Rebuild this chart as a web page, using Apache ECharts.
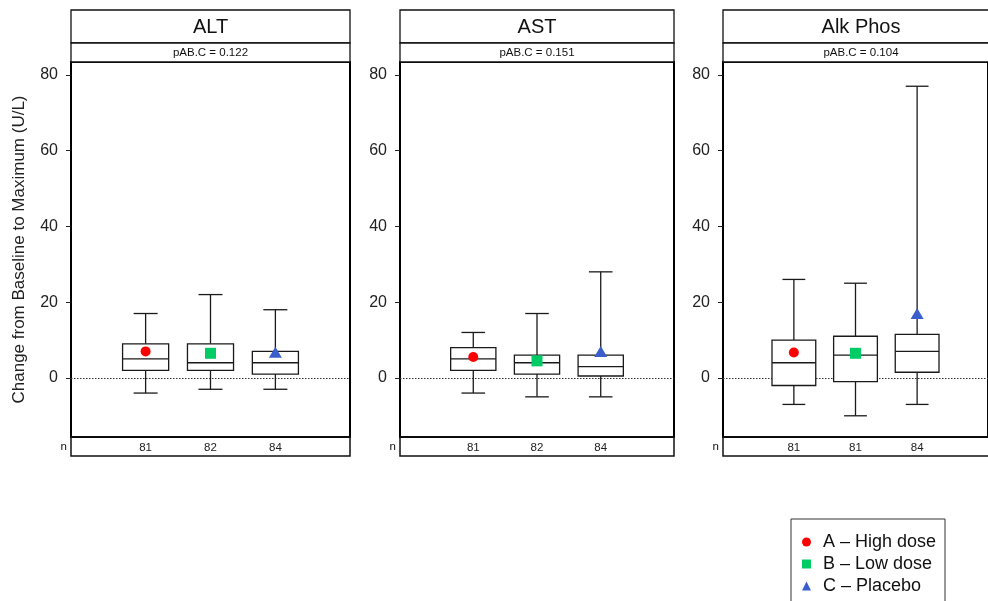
<!DOCTYPE html>
<html>
<head>
<meta charset="utf-8">
<script src="https://cdn.jsdelivr.net/npm/echarts@6/dist/echarts.min.js"></script>
<style>
  html, body { margin: 0; padding: 0; background: #fff; }
  #chart { width: 988px; height: 601px; }
</style>
</head>
<body>
<div id="chart"></div>
<script>
// Lab parameters, one panel each
const panels = ['ALT', 'AST', 'Alk Phos'];
const pValues = ['0.122', '0.151', '0.104'];
const groups = ['A – High dose', 'B – Low dose', 'C – Placebo'];
const groupPositions = [1, 2, 3];
const nCounts = [[81, 82, 84], [81, 82, 84], [81, 81, 84]];

// Five-number summaries per group: [lower whisker, Q1, median, Q3, upper whisker]
const altStats = [[-4, 2, 5, 9, 17], [-3, 2, 4, 9, 22], [-3, 1, 4, 7, 18]];
const astStats = [[-4, 2, 5, 8, 12], [-5, 1, 4, 6, 17], [-5, 0.5, 3, 6, 28]];
const alkStats = [[-7, -2, 4, 10, 26], [-10, -1, 6, 11, 25], [-7, 1.5, 7, 11.5, 77]];

// Group means
const altMeans = [7, 6.5, 6.8];
const astMeans = [5.5, 4.5, 7];
const alkMeans = [6.7, 6.5, 17];

const yTicks = [0, 20, 40, 60, 80];
const yRange = [-15.6, 83.4];
const xRange = [-0.15, 4.15];

const panelStats = [altStats, astStats, alkStats];
const panelMeans = [altMeans, astMeans, alkMeans];

// Layout
const FONT = 'Liberation Sans, Arial, Helvetica, sans-serif';
const panelLeft = [71, 400, 723];
const panelWidth = [279, 274, 276];
const headerTop = 10, stripTop = 43, plotTop = 62, plotBottom = 437, nBottom = 456;
const BOX_W = 0.71, CAP_W = 0.37;
const markerColors = ['#ff0000', '#00cc66', '#3a5fcd'];
const markerSymbols = ['circle', 'rect', 'triangle'];
const markerSizes = [10, 11, [13, 11]];

function renderBox(params, api) {
  const x = api.value(0);
  const low = api.value(1), q1 = api.value(2), med = api.value(3), q3 = api.value(4), high = api.value(5);
  const bw = api.size([BOX_W, 0])[0];
  const cw = api.size([CAP_W, 0])[0];
  const pLow = api.coord([x, low]), pQ1 = api.coord([x, q1]), pMed = api.coord([x, med]);
  const pQ3 = api.coord([x, q3]), pHigh = api.coord([x, high]);
  const cx = pMed[0];
  const stroke = { stroke: '#1a1a1a', lineWidth: 1.3, fill: null };
  return {
    type: 'group',
    children: [
      { type: 'line', shape: { x1: cx, y1: pHigh[1], x2: cx, y2: pQ3[1] }, style: stroke },
      { type: 'line', shape: { x1: cx - cw / 2, y1: pHigh[1], x2: cx + cw / 2, y2: pHigh[1] }, style: stroke },
      { type: 'line', shape: { x1: cx, y1: pQ1[1], x2: cx, y2: pLow[1] }, style: stroke },
      { type: 'line', shape: { x1: cx - cw / 2, y1: pLow[1], x2: cx + cw / 2, y2: pLow[1] }, style: stroke },
      { type: 'rect', shape: { x: cx - bw / 2, y: pQ3[1], width: bw, height: pQ1[1] - pQ3[1] },
        style: { stroke: '#1a1a1a', lineWidth: 1.3, fill: '#fff' } },
      { type: 'line', shape: { x1: cx - bw / 2, y1: pMed[1], x2: cx + bw / 2, y2: pMed[1] }, style: stroke }
    ]
  };
}

const grids = [], xAxes = [], yAxes = [], series = [], graphics = [];

panels.forEach((name, p) => {
  const left = panelLeft[p], width = panelWidth[p];
  grids.push({
    left: left, top: plotTop, width: width, height: plotBottom - plotTop,
    show: true, borderColor: '#000', borderWidth: 2, backgroundColor: 'transparent'
  });
  xAxes.push({
    type: 'value', gridIndex: p, min: xRange[0], max: xRange[1],
    splitLine: { show: false }, axisLine: { show: false }, axisTick: { show: false },
    axisLabel: {
      customValues: groupPositions, margin: 5, fontSize: 11.5, color: '#222', fontFamily: FONT,
      formatter: (v) => String(nCounts[p][groupPositions.indexOf(v)])
    }
  });
  yAxes.push({
    type: 'value', gridIndex: p, min: yRange[0], max: yRange[1], position: 'left',
    splitLine: { show: false },
    axisLine: { show: true, onZero: false, lineStyle: { color: '#000', width: 2 } },
    axisTick: { show: true, inside: false, customValues: yTicks, length: 5, lineStyle: { color: '#222', width: 1 } },
    axisLabel: { customValues: yTicks, margin: 13, fontSize: 16, color: '#222', fontFamily: FONT },
    name: p === 0 ? 'Change from Baseline to Maximum (U/L)' : '',
    nameLocation: 'middle', nameGap: 43,
    nameTextStyle: { fontSize: 17, color: '#222', fontFamily: FONT }
  });

  // reference line at zero
  series.push({
    type: 'line', xAxisIndex: p, yAxisIndex: p, data: [], z: 1, silent: true,
    markLine: {
      silent: true, symbol: 'none', z: 1, label: { show: false },
      lineStyle: { type: [1.5, 1.5], color: '#333', width: 1 },
      data: [{ yAxis: 0 }]
    }
  });

  // box-and-whisker marks
  series.push({
    type: 'custom', xAxisIndex: p, yAxisIndex: p, z: 3, silent: true,
    renderItem: renderBox,
    encode: { x: 0, y: [1, 2, 3, 4, 5] },
    data: panelStats[p].map((s, g) => [groupPositions[g], ...s])
  });

  // group means
  groups.forEach((gName, g) => {
    series.push({
      type: 'scatter', name: gName, xAxisIndex: p, yAxisIndex: p, z: 5,
      symbol: markerSymbols[g], symbolSize: markerSizes[g],
      itemStyle: { color: markerColors[g], opacity: 1 },
      data: [[groupPositions[g], panelMeans[p][g]]]
    });
  });

  // panel header strips and n row
  const lineStyle = { stroke: '#111', lineWidth: 1.3, fill: '#fff' };
  graphics.push(
    { type: 'rect', shape: { x: left, y: headerTop, width: width, height: stripTop - headerTop }, style: lineStyle, z: 10 },
    { type: 'rect', shape: { x: left, y: stripTop, width: width, height: plotTop - stripTop }, style: lineStyle, z: 10 },
    { type: 'rect', shape: { x: left, y: plotBottom, width: width, height: nBottom - plotBottom },
      style: { stroke: '#111', lineWidth: 1.5, fill: 'transparent' }, z: 10 },
    { type: 'text', x: left + width / 2, y: (headerTop + stripTop) / 2 + 1, z: 11,
      style: { text: name, font: '20px ' + FONT, fill: '#111', align: 'center', verticalAlign: 'middle' } },
    { type: 'text', x: left + width / 2, y: (stripTop + plotTop) / 2, z: 11,
      style: { text: 'pAB.C = ' + pValues[p], font: '11.5px ' + FONT, fill: '#111', align: 'center', verticalAlign: 'middle' } },
    { type: 'text', x: left - 4, y: (plotBottom + nBottom) / 2 + 0.5, z: 11,
      style: { text: 'n', font: '11.5px ' + FONT, fill: '#111', align: 'right', verticalAlign: 'middle' } }
  );
});

// legend frame (runs off the lower edge of the page)
graphics.push({
  type: 'rect', shape: { x: 791, y: 519, width: 154, height: 100 },
  style: { stroke: '#333', lineWidth: 1, fill: 'transparent' }, z: 10
});

const chart = echarts.init(document.getElementById('chart'), null, { renderer: 'canvas' });
chart.setOption({
  animation: false,
  backgroundColor: '#fff',
  textStyle: { fontFamily: FONT },
  grid: grids,
  xAxis: xAxes,
  yAxis: yAxes,
  legend: {
    data: groups,
    orient: 'vertical',
    left: 802, top: 533,
    height: 66,
    padding: 0,
    itemGap: 4,
    itemWidth: 9, itemHeight: 9,
    selectedMode: false,
    textStyle: { fontSize: 18, color: '#111', fontFamily: FONT, lineHeight: 17, padding: [0, 0, 0, 7] }
  },
  graphic: graphics,
  series: series
});
</script>
</body>
</html>
